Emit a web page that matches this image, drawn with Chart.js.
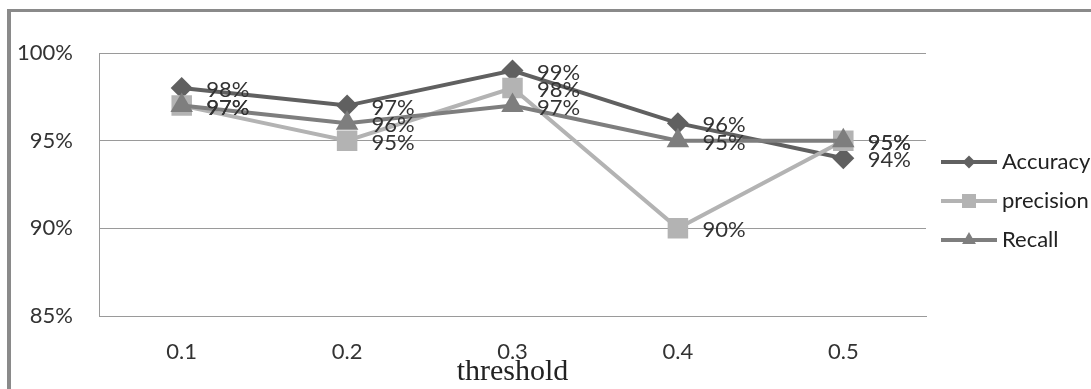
<!DOCTYPE html>
<html>
<head>
<meta charset="utf-8">
<script src="https://cdn.jsdelivr.net/npm/chart.js@4.4.1/dist/chart.umd.min.js"></script>
<style>
  html, body { margin: 0; padding: 0; background: #fff; overflow: hidden; }
  #frame {
    position: absolute; left: 7px; top: 9px; width: 1200px; height: 500px;
    border-top: 3px solid #8a8a8a; border-left: 4px solid #8a8a8a;
  }
  #wrap { position: absolute; left: 0; top: 0; width: 1091px; height: 389px; }
  canvas { display: block; }
</style>
</head>
<body>
<div id="frame"></div>
<div id="wrap"><canvas id="c" width="1091" height="389" style="width:1091px;height:389px"></canvas></div>
<script>
// Threshold categories and the three metric series (in percent)
const thresholds = ['0.1', '0.2', '0.3', '0.4', '0.5'];
const accuracy   = [98, 97, 99, 96, 94];
const precision  = [97, 95, 98, 90, 95];
const recall     = [97, 96, 97, 95, 95];
const yTicks     = [85, 90, 95, 100];

const COLORS = { accuracy: '#606060', precision: '#b3b3b3', recall: '#7e7e7e' };
const FONT = 'Lato';

// Small marker shapes used for the legend swatches
function shapePath(g, shape, x, y, r) {
  g.beginPath();
  if (shape === 'rectRot') {
    g.moveTo(x, y - r); g.lineTo(x + r, y); g.lineTo(x, y + r); g.lineTo(x - r, y);
  } else if (shape === 'rect') {
    g.rect(x - r, y - r, 2 * r, 2 * r);
  } else {
    g.moveTo(x, y - r); g.lineTo(x + r * 0.866, y + r * 0.5); g.lineTo(x - r * 0.866, y + r * 0.5);
  }
  g.closePath();
}

// Legend swatch: a short line with the series marker in the middle
function swatch(color, shape, r) {
  const c = document.createElement('canvas');
  c.width = 60; c.height = 28;
  const g = c.getContext('2d');
  g.strokeStyle = color; g.lineWidth = 4;
  g.beginPath(); g.moveTo(4, 14); g.lineTo(60, 14); g.stroke();
  g.fillStyle = color;
  shapePath(g, shape, 32, 14, r);
  g.fill();
  return c;
}

const swatches = [
  swatch(COLORS.accuracy, 'rectRot', 6.5),
  swatch(COLORS.precision, 'rect', 7),
  swatch(COLORS.recall, 'triangle', 8)
];

// Percent value written to the right of every point
const valueLabels = {
  id: 'valueLabels',
  afterDatasetsDraw(chart) {
    const ctx = chart.ctx;
    ctx.save();
    ctx.font = '22px ' + FONT;
    ctx.fillStyle = '#333';
    ctx.textAlign = 'left';
    ctx.textBaseline = 'middle';
    chart.data.datasets.forEach((ds, i) => {
      chart.getDatasetMeta(i).data.forEach((pt, j) => {
        ctx.fillText(ds.data[j] + '%', pt.x + 24.5, pt.y + 2);
      });
    });
    ctx.restore();
  }
};

function build() {
  const ctx = document.getElementById('c').getContext('2d');
  new Chart(ctx, {
    type: 'line',
    data: {
      labels: thresholds,
      datasets: [
        { label: 'Accuracy', data: accuracy, borderColor: COLORS.accuracy, backgroundColor: COLORS.accuracy,
          pointStyle: 'rectRot', pointRadius: 11, pointBorderWidth: 0, borderWidth: 4, order: 3 },
        { label: 'precision', data: precision, borderColor: COLORS.precision, backgroundColor: COLORS.precision,
          pointStyle: 'rect', pointRadius: 14.5, pointBorderWidth: 0, borderWidth: 4, order: 2 },
        { label: 'Recall', data: recall, borderColor: COLORS.recall, backgroundColor: COLORS.recall,
          pointStyle: 'triangle', pointRadius: 13, pointBorderWidth: 0, borderWidth: 4, order: 1 }
      ]
    },
    options: {
      responsive: false,
      animation: false,
      events: [],
      layout: { padding: { top: 53, bottom: 0, left: 0, right: 0 } },
      scales: {
        x: {
          offset: true,
          grid: { display: false, drawTicks: false },
          border: { display: true, color: '#9a9a9a', width: 1 },
          ticks: { color: '#333', font: { family: FONT, size: 22 }, padding: 23 },
          title: { display: true, text: 'threshold', color: '#222',
                   font: { family: 'Liberation Serif', size: 30 }, padding: { top: 0, bottom: -1 } },
          afterFit(s) { s.height = 73; }
        },
        y: {
          min: 85, max: 100,
          afterBuildTicks(s) { s.ticks = yTicks.map(v => ({ value: v })); },
          ticks: { color: '#333', font: { family: FONT, size: 22 }, padding: 26, callback: v => v + '%' },
          grid: { color: '#9a9a9a', drawTicks: false, lineWidth: 1 },
          border: { display: true, color: '#9a9a9a', width: 1 },
          afterFit(s) { s.width = 99; }
        }
      },
      plugins: {
        tooltip: { enabled: false },
        legend: {
          position: 'right',
          fullSize: false,
          maxWidth: 165,
          // blank heading only reserves space above the items
          title: { display: true, text: ' ', padding: 0, font: { family: FONT, size: 22, lineHeight: 1.5 } },
          labels: {
            usePointStyle: true,
            pointStyleWidth: 48,
            padding: 17,
            color: '#222',
            font: { family: FONT, size: 22 },
            sort: (a, b) => a.datasetIndex - b.datasetIndex,
            generateLabels(chart) {
              const items = Chart.defaults.plugins.legend.labels.generateLabels(chart);
              items.forEach(it => { it.pointStyle = swatches[it.datasetIndex]; it.rotation = 0; });
              return items;
            }
          }
        }
      }
    },
    plugins: [valueLabels]
  });
}

Promise.all([
  document.fonts.load('22px ' + FONT),
  document.fonts.load('30px "Liberation Serif"')
]).then(build, build);
</script>
</body>
</html>
